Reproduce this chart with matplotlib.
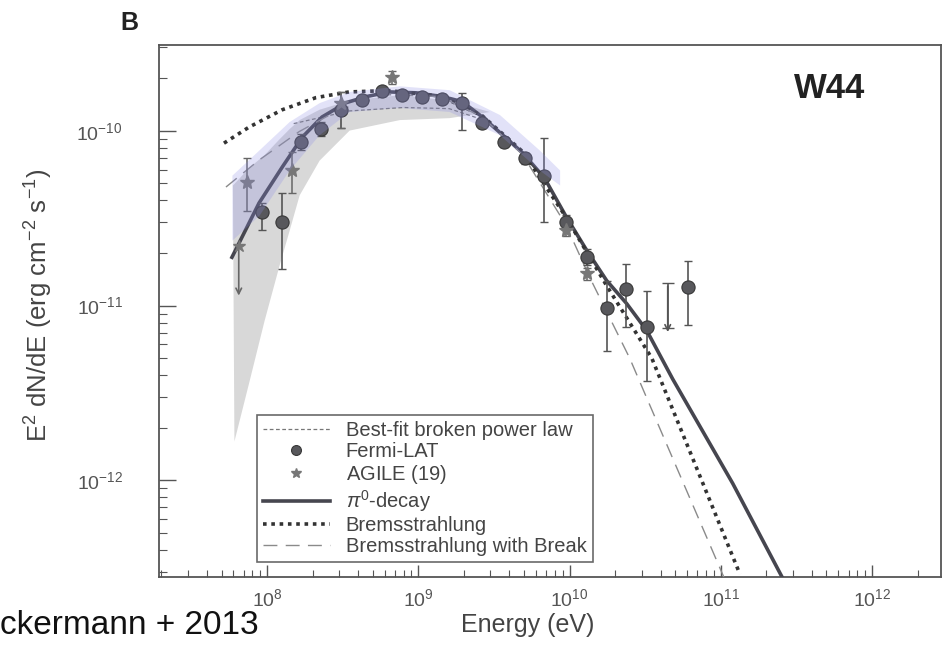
import numpy as np
import matplotlib.pyplot as plt
from matplotlib.ticker import FixedLocator, NullFormatter

plt.rcParams['font.family'] = ['Liberation Sans', 'DejaVu Sans']
plt.rcParams['mathtext.fontset'] = 'custom'
plt.rcParams['mathtext.rm'] = 'Liberation Sans'
plt.rcParams['mathtext.it'] = 'Liberation Sans:italic'
plt.rcParams['mathtext.bf'] = 'Liberation Sans:bold'
plt.rcParams['axes.unicode_minus'] = False

# Fermi-LAT points (E in eV, E^2 dN/dE in erg cm^-2 s^-1)
lat_e = [9.3e7, 1.26e8, 1.68e8, 2.28e8, 3.09e8, 4.26e8, 5.78e8, 7.84e8, 1.06e9, 1.44e9,
         1.95e9, 2.65e9, 3.71e9, 5.04e9, 6.73e9, 9.55e9, 1.31e10, 1.76e10, 2.38e10,
         3.23e10, 6.04e10]
lat_f = [3.42e-11, 3.0e-11, 8.64e-11, 1.03e-10, 1.32e-10, 1.51e-10, 1.68e-10, 1.61e-10,
         1.57e-10, 1.53e-10, 1.45e-10, 1.11e-10, 8.64e-11, 7.0e-11, 5.5e-11, 3.0e-11,
         1.89e-11, 9.75e-12, 1.25e-11, 7.5e-12, 1.27e-11]
lat_hi = [3.86e-11, 4.4e-11, 9.6e-11, 1.12e-10, 1.66e-10, 1.6e-10, 1.76e-10, 1.7e-10,
          1.65e-10, 1.62e-10, 1.65e-10, 1.18e-10, 9.2e-11, 7.5e-11, 9.1e-11, 3.3e-11,
          2.1e-11, 1.39e-11, 1.74e-11, 1.22e-11, 1.8e-11]
lat_lo = [2.7e-11, 1.63e-11, 7.8e-11, 9.4e-11, 1.04e-10, 1.42e-10, 1.6e-10, 1.52e-10,
          1.49e-10, 1.44e-10, 1.01e-10, 1.04e-10, 8.1e-11, 6.5e-11, 3.0e-11, 2.7e-11,
          1.7e-11, 5.5e-12, 7.5e-12, 3.7e-12, 7.7e-12]
lat_ul_e = [4.46e10]
lat_ul_f = [1.34e-11]

# AGILE points
agile_e = [7.4e7, 1.47e8, 3.1e8, 6.7e8, 9.5e9, 1.3e10]
agile_f = [5.1e-11, 6.0e-11, 1.45e-10, 2.02e-10, 2.7e-11, 1.53e-11]
agile_hi = [7.0e-11, 7.6e-11, 1.66e-10, 2.2e-10, 2.9e-11, 1.65e-11]
agile_lo = [3.5e-11, 4.4e-11, 1.04e-10, 1.85e-10, 2.5e-11, 1.4e-11]
agile_ul_e = [6.5e7]
agile_ul_f = [2.2e-11]

# model curves
pi0_e = [5.86e7, 8.85e7, 1.26e8, 1.71e8, 2.31e8, 3.34e8, 4.53e8, 6.43e8, 9.7e8, 1.44e9,
         1.95e9, 2.65e9, 3.6e9, 4.88e9, 6.83e9, 9.55e9, 1.3e10, 1.76e10, 2.38e10, 3.24e10,
         4.81e10, 1.2e11, 2.58e11]
pi0_f = [1.89e-11, 3.86e-11, 6.2e-11, 9.2e-11, 1.2e-10, 1.45e-10, 1.57e-10, 1.67e-10,
         1.65e-10, 1.57e-10, 1.47e-10, 1.2e-10, 9.5e-11, 7.5e-11, 5.37e-11, 3.2e-11,
         2.07e-11, 1.39e-11, 1.03e-11, 7.2e-12, 3.8e-12, 9.6e-13, 2.73e-13]

brems_e = [5.19e7, 7.6e7, 1.26e8, 2.11e8, 3.49e8, 6.4e8, 1.4e9, 2.65e9, 4.9e9, 9.5e9,
           1.76e10, 3.5e10, 1.34e11]
brems_f = [8.5e-11, 1.05e-10, 1.32e-10, 1.55e-10, 1.67e-10, 1.7e-10, 1.58e-10, 1.22e-10,
           7.6e-11, 3.2e-11, 1.3e-11, 5.0e-12, 2.9e-13]

brk_e = [5.35e7, 8.85e7, 1.63e8, 3.0e8, 6.4e8, 1.4e9, 2.65e9, 4.9e9, 9.5e9, 1.36e10,
         2.5e10, 3.24e10, 8.7e10, 1.06e11]
brk_f = [4.77e-11, 6.8e-11, 9.9e-11, 1.32e-10, 1.61e-10, 1.57e-10, 1.2e-10, 7.3e-11,
         2.88e-11, 1.45e-11, 5.0e-12, 2.96e-12, 4.06e-13, 2.73e-13]

bpl_e = [1.5e8, 3.5e8, 8.0e8, 1.6e9, 3.0e9]
bpl_f = [1.1e-10, 1.3e-10, 1.36e-10, 1.34e-10, 1.12e-10]

# shaded bands
gray_e = [5.9e7, 6.04e7, 7.6e7, 9.55e7, 1.2e8, 1.4e8, 1.63e8, 2.21e8, 3.49e8, 7.5e8, 1.6e9, 2.95e9]
gray_lo = [4.9e-11, 1.68e-12, 3.7e-12, 8.2e-12, 1.7e-11, 2.7e-11, 4.3e-11, 6.8e-11, 1.01e-10,
           1.16e-10, 1.19e-10, 1.29e-10]
gray_hi = [4.9e-11, 5.0e-11, 6.2e-11, 7.3e-11, 9.0e-11, 1.03e-10, 1.16e-10, 1.33e-10, 1.5e-10,
           1.61e-10, 1.5e-10, 1.29e-10]

blue_e = [5.86e7, 8.85e7, 1.4e8, 2.21e8, 3.49e8, 7.48e8, 1.6e9, 3.44e9, 6.3e9, 8.6e9]
blue_hi = [5.58e-11, 7.78e-11, 1.13e-10, 1.45e-10, 1.68e-10, 1.81e-10, 1.72e-10, 1.24e-10,
           7.78e-11, 5.97e-11]
blue_lo = [2.37e-11, 3.29e-11, 5.97e-11, 9.5e-11, 1.29e-10, 1.36e-10, 1.29e-10, 9.5e-11,
           5.97e-11, 4.9e-11]

fig = plt.figure(figsize=(9.43, 6.49), dpi=100)
ax = fig.add_axes([0.1686, 0.111, 0.8293, 0.8197])
ax.set_xscale('log')
ax.set_yscale('log')
ax.set_xlim(1.93e7, 2.86e12)
ax.set_ylim(2.8e-13, 3.1e-10)

ax.fill_between(gray_e, gray_lo, gray_hi, color='#d8d8d8', lw=0, zorder=1)

l_bpl, = ax.plot(bpl_e, bpl_f, ls=(0, (3, 2)), color='#777777', lw=0.9, zorder=2)
l_pi0, = ax.plot(pi0_e, pi0_f, '-', color='#46464f', lw=2.6, zorder=3)
l_brems, = ax.plot(brems_e, brems_f, ls=(0, (1, 1.3)), color='#333333', lw=2.6, zorder=3)
l_brk, = ax.plot(brk_e, brk_f, ls=(0, (10, 6)), color='#8a8a8a', lw=1.0, zorder=3)

lat = np.array(lat_f)
ax.errorbar(lat_e, lat_f, yerr=[lat - np.array(lat_lo), np.array(lat_hi) - lat],
            fmt='none', ecolor='#555555', elinewidth=1.2, capsize=3, zorder=4)
h_lat, = ax.plot(lat_e, lat_f, 'o', color='#58585c', mec='#383838', mew=0.8, ms=9.5,
                 ls='none', zorder=5)
ax.errorbar(lat_ul_e, lat_ul_f, yerr=[[0.6e-11], [0]],
            fmt='none', ecolor='#555555', elinewidth=1.2, capsize=4, zorder=4)
ax.annotate('', xy=(lat_ul_e[0], 6.8e-12), xytext=(lat_ul_e[0], lat_ul_f[0]),
            arrowprops=dict(arrowstyle='->', color='#555555', lw=1.2), zorder=4)

ag = np.array(agile_f)
ax.errorbar(agile_e, agile_f, yerr=[ag - np.array(agile_lo), np.array(agile_hi) - ag],
            fmt='none', ecolor='#666666', elinewidth=1.1, capsize=3, zorder=4)
h_ag, = ax.plot(agile_e, agile_f, '*', color='#777777', ms=10, ls='none', zorder=5)
ax.plot(agile_ul_e, agile_ul_f, '*', color='#777777', ms=9, zorder=5)
ax.annotate('', xy=(agile_ul_e[0], 1.1e-11), xytext=(agile_ul_e[0], agile_ul_f[0]),
            arrowprops=dict(arrowstyle='->', color='#666666', lw=1.2), zorder=4)

# blue Fermi band over the points
ax.fill_between(blue_e, blue_lo, blue_hi, color='#8c8ce6', alpha=0.25, lw=0, zorder=6)

ax.xaxis.set_major_locator(FixedLocator([1e8, 1e9, 1e10, 1e11, 1e12]))
xmin = [m * 10.0 ** d for d in range(7, 13) for m in range(2, 10)]
ax.xaxis.set_minor_locator(FixedLocator([v for v in xmin if 1.93e7 < v < 2.86e12]))
ax.yaxis.set_major_locator(FixedLocator([1e-12, 1e-11, 1e-10]))
ymin = [m * 10.0 ** d for d in range(-13, -9) for m in range(2, 10)]
ax.yaxis.set_minor_locator(FixedLocator([v for v in ymin if 2.8e-13 < v < 3.1e-10]))
ax.xaxis.set_minor_formatter(NullFormatter())
ax.yaxis.set_minor_formatter(NullFormatter())
ax.tick_params(which='both', direction='in', colors='#555555', labelsize=14,
               top=False, right=False)
ax.tick_params(axis='x', which='major', length=9, width=1.0, pad=8)
ax.tick_params(axis='x', which='minor', length=5, width=0.8)
ax.tick_params(axis='y', which='major', length=12, width=1.0, pad=26)
ax.tick_params(axis='y', which='minor', length=6, width=0.8)
for s in ax.spines.values():
    s.set_color('#555555')
    s.set_linewidth(1.3)

ax.set_xlabel('Energy (eV)', fontsize=18, color='#444444')
ax.xaxis.set_label_coords(0.472, -0.068)
ax.set_ylabel('E$^2$ dN/dE (erg cm$^{-2}$ s$^{-1}$)', fontsize=18.5, color='#444444')
ax.yaxis.set_label_coords(-0.133, 0.51)

ax.text(0.858, 0.919, 'W44', transform=ax.transAxes, fontsize=25, fontweight='bold',
        color='#222222', ha='center', va='center')
fig.text(0.128, 0.965, 'B', fontsize=18, fontweight='bold', color='#222222',
         ha='left', va='center')
fig.text(0.0, 0.036, 'ckermann + 2013', fontsize=24, color='#111111',
         ha='left', va='center')

leg = ax.legend([l_bpl, h_lat, h_ag, l_pi0, l_brems, l_brk],
                ['Best-fit broken power law', 'Fermi-LAT', 'AGILE ($\\it{19}$)',
                 '$\\pi^0$-decay', 'Bremsstrahlung', 'Bremsstrahlung with Break'],
                loc='lower left', bbox_to_anchor=(0.1255, 0.028), fontsize=14.5,
                frameon=True, fancybox=False, handlelength=3.3, labelspacing=0.1,
                borderpad=0.3, handletextpad=0.8, borderaxespad=0, markerscale=0.75)
leg.get_frame().set_edgecolor('#444444')
leg.get_frame().set_linewidth(1.2)
for t in leg.get_texts():
    t.set_color('#444444')

fig.savefig('out.png', dpi=100)
